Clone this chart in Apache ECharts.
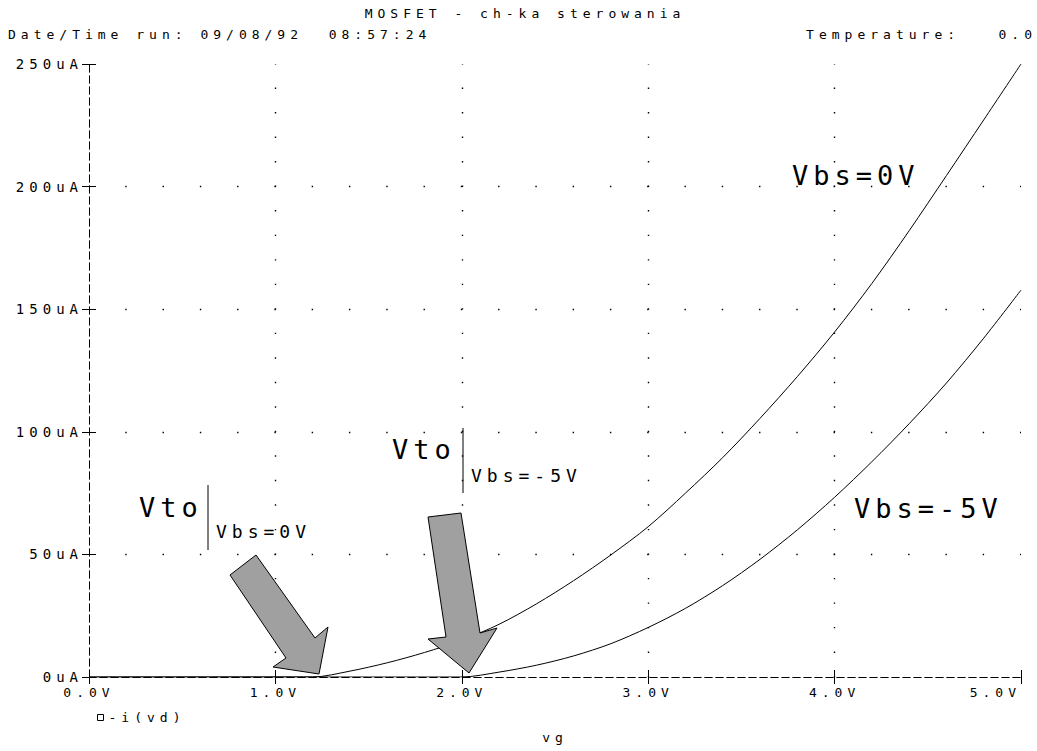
<!DOCTYPE html>
<html>
<head>
<meta charset="utf-8">
<script src="https://cdn.jsdelivr.net/npm/echarts@6/dist/echarts.min.js"></script>
<style>
  html, body { margin: 0; padding: 0; background: #fff; }
  #chart { width: 1037px; height: 751px; }
  #chart text { letter-spacing: 5px; white-space: pre; }
</style>
</head>
<body>
<div id="chart"></div>
<script>
// gate voltage sweep (V)
const vg = [0.0, 0.2, 0.4, 0.6, 0.8, 1.0, 1.2, 1.4, 1.6, 1.8, 2.0, 2.2, 2.4, 2.6, 2.8, 3.0,
            3.2, 3.4, 3.6, 3.8, 4.0, 4.2, 4.4, 4.6, 4.8, 5.0];
// -i(vd) in uA, Vbs = 0V
const idVbs0 = [0, 0, 0, 0, 0, 0, 0, 2.4, 5.8, 10, 15, 21.5, 29.8, 39.3, 49.8, 61.3,
                75, 89.5, 105.5, 122.5, 140.7, 160.5, 182, 204.5, 227.2, 250];
// -i(vd) in uA, Vbs = -5V
const idVbsM5 = [0, 0, 0, 0, 0, 0, 0, 0, 0, 0, 0, 2.0, 4.8, 8.6, 13.6, 20.2,
                 28.0, 37.3, 48, 60, 73.3, 87.8, 103.3, 119.9, 138.2, 157.8];
const xTicks = [0, 1, 2, 3, 4, 5];
const yTicks = [0, 50, 100, 150, 200, 250];

const FONT = '"DejaVu Sans Mono", "Liberation Mono", monospace';
const txt = { color: '#000', fontFamily: FONT, fontSize: 13, fontWeight: 'normal' };

const chart = echarts.init(document.getElementById('chart'), null, { renderer: 'svg' });

const dashed = { color: '#000', width: 1, type: [7, 4] };
const tick = { color: '#000', width: 1 };

// value axes share one scale; an outside and an inside copy on each side give "+" ticks
function xAx(pos, inside, extra) {
  return Object.assign({
    type: 'value', position: pos, min: xTicks[0], max: xTicks[xTicks.length - 1], interval: 1,
    axisLine: { show: !inside, lineStyle: dashed },
    axisTick: { show: true, inside: inside, length: 7, lineStyle: tick },
    axisLabel: { show: false },
    splitLine: { show: false }
  }, extra || {});
}
function yAx(pos, inside, extra) {
  return Object.assign({
    type: 'value', position: pos, min: yTicks[0], max: yTicks[yTicks.length - 1], interval: 50,
    axisLine: { show: !inside, lineStyle: dashed },
    axisTick: { show: true, inside: inside, length: 7, lineStyle: tick },
    axisLabel: { show: false },
    splitLine: { show: false }
  }, extra || {});
}

const option = {
  animation: false,
  backgroundColor: '#fff',
  title: [
    { text: 'MOSFET - ch-ka sterowania', left: 525, textAlign: 'center', top: 7, padding: 0, textStyle: txt },
    { text: 'Date/Time run: 09/08/92  08:57:24', left: 8, top: 28, padding: 0, textStyle: txt },
    { text: 'Temperature:   0.0', left: 1037, textAlign: 'right', top: 28, padding: 0, textStyle: txt }
  ],
  legend: {
    data: ['-i(vd)'], left: 97, top: 711, padding: 0,
    icon: 'rect', itemWidth: 6, itemHeight: 6,
    itemStyle: { color: '#fff', borderColor: '#000', borderWidth: 1 },
    textStyle: txt
  },
  grid: { left: 89, right: 16, top: 64, bottom: 74 },
  xAxis: [
    xAx('bottom', false, {
      axisLabel: Object.assign({ show: true, margin: 9, alignMaxLabel: 'right',
                                 formatter: v => v.toFixed(1) + 'V' }, txt),
      splitLine: { show: true, showMinLine: false, showMaxLine: false,
                   lineStyle: { color: '#000', width: 1.4, type: [1.4, 23.12], dashOffset: 0.7 } },
      name: 'vg', nameLocation: 'middle', nameGap: 54, nameTextStyle: txt
    }),
    xAx('bottom', true),
    xAx('top', false),
    xAx('top', true)
  ],
  yAxis: [
    yAx('left', false, {
      axisLabel: Object.assign({ show: true, margin: 6, formatter: v => v + 'uA' }, txt, { fontSize: 14 }),
      splitLine: { show: true, showMinLine: false, showMaxLine: false,
                   lineStyle: { color: '#000', width: 1.4, type: [1.4, 35.88], dashOffset: 0.7 } }
    }),
    yAx('left', true),
    yAx('right', false),
    yAx('right', true)
  ],
  series: [
    { name: '-i(vd)', type: 'line', xAxisIndex: 0, yAxisIndex: 0, showSymbol: false, smooth: 0.3,
      lineStyle: { color: '#000', width: 1 }, itemStyle: { color: '#000' },
      data: vg.map((v, i) => [v, idVbs0[i]]) },
    { name: '-i(vd)', type: 'line', xAxisIndex: 0, yAxisIndex: 0, showSymbol: false, smooth: 0.3,
      lineStyle: { color: '#000', width: 1 }, itemStyle: { color: '#000' },
      data: vg.map((v, i) => [v, idVbsM5[i]]) }
  ],
  graphic: [
    { type: 'polygon', z: 100,
      shape: { points: [[256, 555], [315, 638], [328, 627], [319, 674], [273, 667], [286, 658], [230, 575]] },
      style: { fill: '#a0a0a0', stroke: '#000', lineWidth: 1 } },
    { type: 'polygon', z: 100,
      shape: { points: [[461, 513], [480, 633], [497, 628], [469, 673], [428, 639], [446, 637], [428, 517]] },
      style: { fill: '#a0a0a0', stroke: '#000', lineWidth: 1 } },
    { type: 'line', z: 100, shape: { x1: 208, y1: 485, x2: 208, y2: 550 }, style: { stroke: '#000', lineWidth: 1 } },
    { type: 'line', z: 100, shape: { x1: 463, y1: 428, x2: 463, y2: 493 }, style: { stroke: '#000', lineWidth: 1 } },
    { type: 'text', z: 100, x: 139, y: 507,
      style: { text: 'Vto', fontSize: 27, fontFamily: FONT, fill: '#000', verticalAlign: 'middle' } },
    { type: 'text', z: 100, x: 216, y: 531,
      style: { text: 'Vbs=0V', fontSize: 18, fontFamily: FONT, fill: '#000', verticalAlign: 'middle' } },
    { type: 'text', z: 100, x: 392, y: 449,
      style: { text: 'Vto', fontSize: 27, fontFamily: FONT, fill: '#000', verticalAlign: 'middle' } },
    { type: 'text', z: 100, x: 471, y: 475,
      style: { text: 'Vbs=-5V', fontSize: 18, fontFamily: FONT, fill: '#000', verticalAlign: 'middle' } },
    { type: 'text', z: 100, x: 792, y: 175,
      style: { text: 'Vbs=0V', fontSize: 27, fontFamily: FONT, fill: '#000', verticalAlign: 'middle' } },
    { type: 'text', z: 100, x: 854, y: 508,
      style: { text: 'Vbs=-5V', fontSize: 27, fontFamily: FONT, fill: '#000', verticalAlign: 'middle' } }
  ]
};

chart.setOption(option);
</script>
</body>
</html>
